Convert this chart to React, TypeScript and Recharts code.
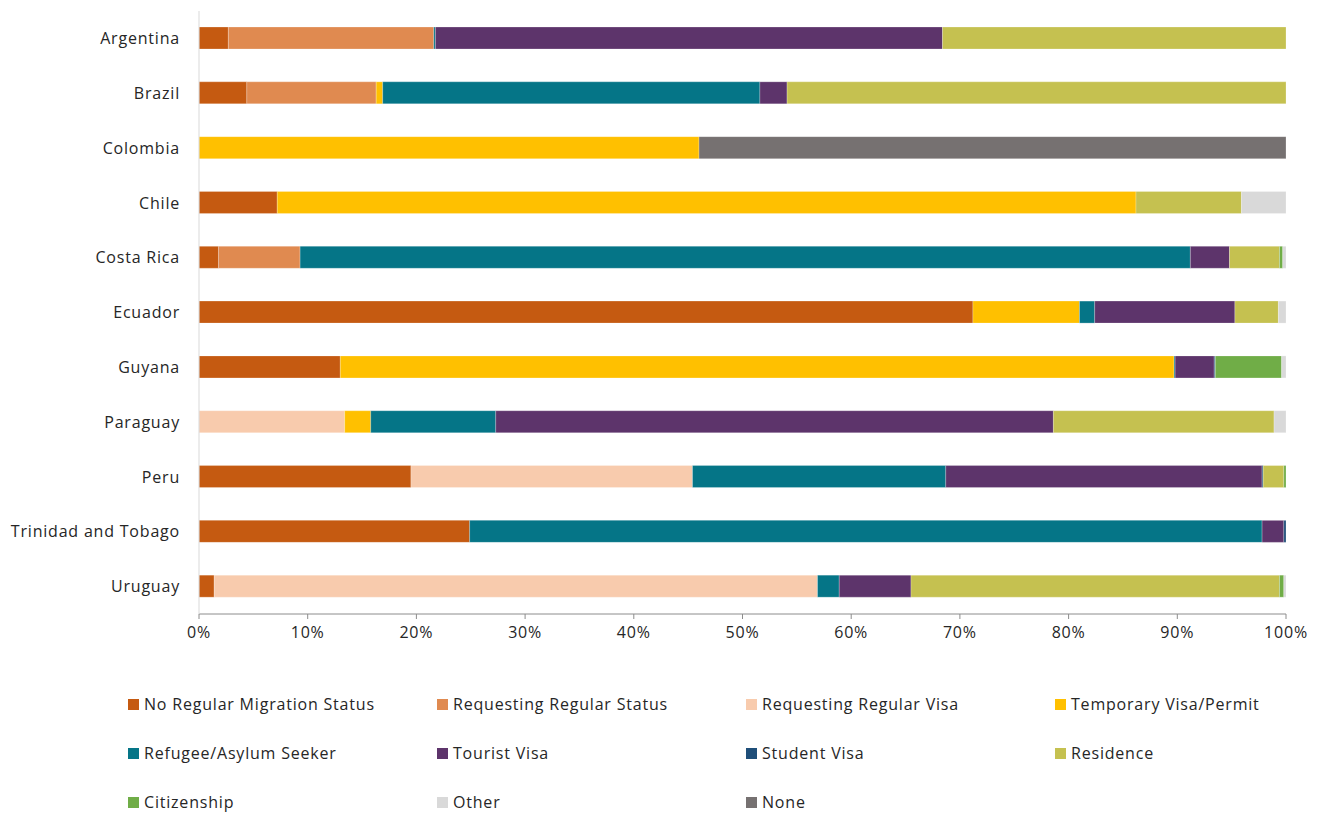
import React from "react";
import { BarChart, Bar, XAxis, YAxis } from "recharts";

const countries = ["Argentina", "Brazil", "Colombia", "Chile", "Costa Rica", "Ecuador", "Guyana", "Paraguay", "Peru", "Trinidad and Tobago", "Uruguay"];

const seriesNames = [
  "No Regular Migration Status",
  "Requesting Regular Status",
  "Requesting Regular Visa",
  "Temporary Visa/Permit",
  "Refugee/Asylum Seeker",
  "Tourist Visa",
  "Student Visa",
  "Residence",
  "Citizenship",
  "Other",
  "None",
];

const seriesColors = ["#C55A11", "#E08A50", "#F8CBAD", "#FFC000", "#057587", "#5D346B", "#1F4E79", "#C5C150", "#70AD47", "#D9D9D9", "#767171"];

// values per country, in order of seriesNames
const noRegular = [2.7, 4.4, 0, 7.2, 1.8, 71.2, 13.0, 0, 19.5, 24.9, 1.4];
const requestingStatus = [18.9, 11.9, 0, 0, 7.5, 0, 0, 0, 0, 0, 0];
const requestingVisa = [0, 0, 0, 0, 0, 0, 0, 13.4, 25.9, 0, 55.5];
const temporary = [0, 0.6, 46.0, 79.0, 0, 9.8, 76.7, 2.4, 0, 0, 0];
const refugee = [0.15, 34.7, 0, 0, 81.9, 1.4, 0.1, 11.5, 23.3, 72.9, 2.0];
const tourist = [46.65, 2.5, 0, 0, 3.6, 12.9, 3.6, 51.3, 29.1, 2.0, 6.6];
const student = [0, 0, 0, 0, 0, 0, 0.1, 0, 0.1, 0.2, 0];
const residence = [31.6, 45.9, 0, 9.7, 4.6, 4.0, 0, 20.3, 1.9, 0, 33.9];
const citizenship = [0, 0, 0, 0, 0.3, 0, 6.1, 0, 0.2, 0, 0.4];
const other = [0, 0, 0, 4.1, 0.3, 0.7, 0.4, 1.1, 0, 0, 0.2];
const none = [0, 0, 54.0, 0, 0, 0, 0, 0, 0, 0, 0];

const seriesValues = [noRegular, requestingStatus, requestingVisa, temporary, refugee, tourist, student, residence, citizenship, other, none];

const xTicks = [0, 10, 20, 30, 40, 50, 60, 70, 80, 90, 100];

const data = countries.map((c, i) => {
  const row: Record<string, number | string> = { country: c };
  seriesNames.forEach((s, j) => {
    row[s] = seriesValues[j][i];
  });
  return row;
});

const FONT = "'Open Sans', 'Noto Sans', sans-serif";
const TEXT = "#262626";
const LS = 0.8;

export default function App() {
  return (
    <div style={{ position: "relative", width: 1304, height: 806, fontFamily: FONT }}>
      <BarChart
        width={1304}
        height={660}
        data={data}
        layout="vertical"
        margin={{ top: 3, right: 26, left: 0, bottom: 24 }}
        barCategoryGap="60%"
      >
        <XAxis
          type="number"
          domain={[0, 100]}
          ticks={xTicks}
          tickFormatter={(v: number) => `${v}%`}
          axisLine={{ stroke: "#8C8C8C" }}
          tickLine={{ stroke: "#8C8C8C" }}
          tickSize={5}
          tickMargin={8}
          height={30}
          tick={{ fill: TEXT, fontSize: 16, fontFamily: FONT, letterSpacing: LS }}
          interval={0}
        />
        <YAxis
          type="category"
          dataKey="country"
          width={191}
          axisLine={{ stroke: "#D9D9D9" }}
          tickLine={false}
          tickSize={8}
          tickMargin={11}
          tick={{ fill: TEXT, fontSize: 16, fontFamily: FONT, letterSpacing: LS }}
          interval={0}
        />
        {seriesNames.map((s, j) => (
          <Bar
            key={s}
            dataKey={s}
            stackId="a"
            fill={seriesColors[j]}
            stroke="#ffffff"
            strokeWidth={0.4}
            strokeOpacity={0.6}
            barSize={22}
            isAnimationActive={false}
          />
        ))}
      </BarChart>
      {seriesNames.map((s, j) => {
        const col = j % 4;
        const row = Math.floor(j / 4);
        return (
          <div
            key={s}
            style={{
              position: "absolute",
              left: 120 + col * 309,
              top: 685 + row * 49,
              display: "flex",
              alignItems: "center",
              fontSize: 16,
              letterSpacing: LS,
              color: TEXT,
              whiteSpace: "nowrap",
              lineHeight: "22px",
            }}
          >
            <span style={{ display: "inline-block", width: 11, height: 11, background: seriesColors[j], marginRight: 5 }} />
            {s}
          </div>
        );
      })}
    </div>
  );
}
